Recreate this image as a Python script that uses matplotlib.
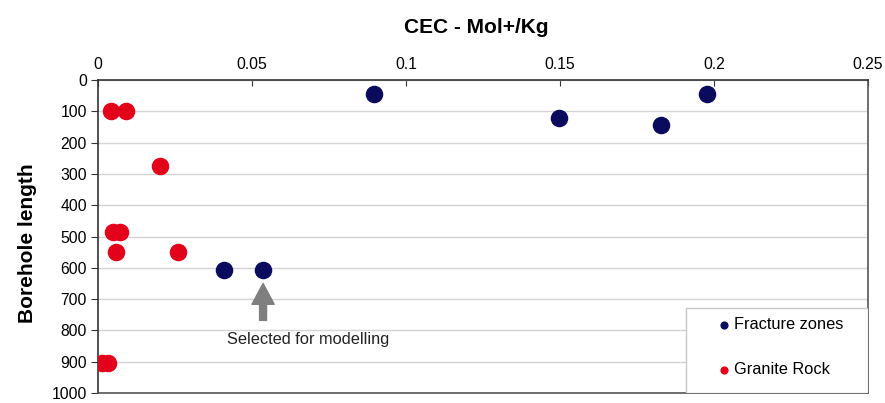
import matplotlib.pyplot as plt
from matplotlib.patches import Rectangle

plt.rcParams['font.family'] = ['Liberation Sans', 'DejaVu Sans']

# CEC (Mol+/Kg) vs borehole length
fracture_cec = [0.0896, 0.1497, 0.1828, 0.1977, 0.0409, 0.0536]
fracture_len = [45, 120, 145, 45, 607, 607]

granite_cec = [0.0042, 0.0091, 0.0201, 0.0049, 0.0071, 0.0058, 0.0260, 0.0013, 0.0033]
granite_len = [100, 100, 275, 485, 485, 551, 551, 905, 905]

selected_cec = 0.0536
selected_len = 607

x_ticks = [0, 0.05, 0.1, 0.15, 0.2, 0.25]
x_ticklabels = ['0', '0.05', '0.1', '0.15', '0.2', '0.25']
y_ticks = list(range(0, 1001, 100))

navy = '#0b0b5e'
red = '#e2001a'

fig = plt.figure(figsize=(8.85, 4.03), dpi=100)
ax = fig.add_axes([0.1107, 0.0248, 0.8701, 0.7767])

ax.scatter(fracture_cec, fracture_len, s=135, color=navy, label='Fracture zones', zorder=3)
ax.scatter(granite_cec, granite_len, s=135, color=red, label='Granite Rock', zorder=3)

ax.set_xlim(0, 0.25)
ax.set_ylim(1000, 0)
ax.set_xticks(x_ticks)
ax.set_xticklabels(x_ticklabels)
ax.set_yticks(y_ticks)
ax.xaxis.tick_top()
ax.xaxis.set_label_position('top')
ax.tick_params(axis='x', direction='in', length=4, labelsize=11.3, pad=6, color='#333333')
ax.tick_params(axis='y', direction='out', length=5, labelsize=11.3, pad=3, color='#333333')
ax.set_xlabel('CEC - Mol+/Kg', fontsize=15, fontweight='bold')
ax.xaxis.set_label_coords(0.491, 1.150)
ax.set_ylabel('Borehole length', fontsize=15, fontweight='bold')
ax.yaxis.set_label_coords(-0.0792, 0.48)

ax.grid(axis='y', color='#d4d4d4', linewidth=1)
ax.set_axisbelow(True)
for side in ['top', 'left']:
    ax.spines[side].set_color('#333333')
    ax.spines[side].set_linewidth(1.2)
for side in ['right', 'bottom']:
    ax.spines[side].set_color('#555555')
    ax.spines[side].set_linewidth(1.2)

# arrow pointing at the selected point
ax.annotate('', xy=(selected_cec, 650), xytext=(selected_cec, 768),
            arrowprops=dict(facecolor='#7f7f7f', edgecolor='#7f7f7f',
                            width=5, headwidth=16, headlength=15))
ax.text(0.042, 829, 'Selected for modelling', fontsize=11.8, va='center', ha='left',
        color='#222222')

# legend box
ax.add_patch(Rectangle((0.7636, 0.0), 0.2364, 0.2716, transform=ax.transAxes,
                       facecolor='white', edgecolor='#c8c8c8', linewidth=1, zorder=4))
leg = ax.legend(loc='upper left', bbox_to_anchor=(0.8026, 0.243), fontsize=11.8,
                markerscale=0.42, handletextpad=0.1, handlelength=1.0,
                labelspacing=1.85, borderpad=0, borderaxespad=0, frameon=False)
leg.set_zorder(5)

fig.savefig('out.png', dpi=100)
